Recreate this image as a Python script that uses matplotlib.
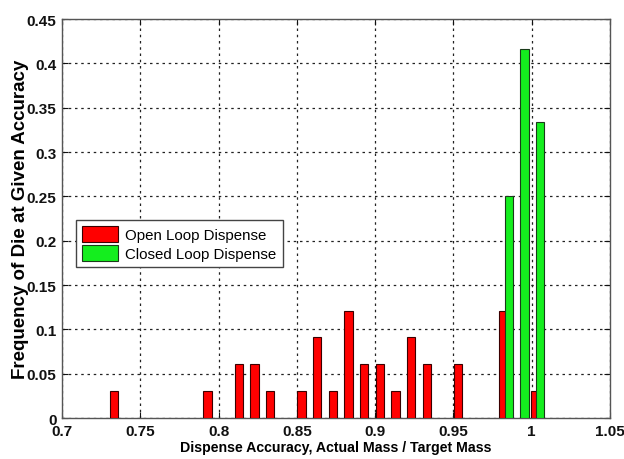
import matplotlib
matplotlib.use("Agg")
import matplotlib.pyplot as plt

# Data
open_centers = [0.733, 0.793, 0.813, 0.823, 0.833, 0.853, 0.863, 0.873, 0.883,
                0.893, 0.903, 0.913, 0.923, 0.933, 0.953, 0.9818, 1.0022]
open_freq = [0.0303, 0.0303, 0.0606, 0.0606, 0.0303, 0.0303, 0.0909, 0.0303, 0.1212,
             0.0606, 0.0606, 0.0303, 0.0909, 0.0606, 0.0606, 0.1212, 0.0303]
closed_centers = [0.9855, 0.9954, 1.0052]
closed_freq = [0.25, 0.4167, 0.3333]

xticks = [0.7, 0.75, 0.8, 0.85, 0.9, 0.95, 1.0, 1.05]
xtick_labels = ["0.7", "0.75", "0.8", "0.85", "0.9", "0.95", "1", "1.05"]
yticks = [0, 0.05, 0.1, 0.15, 0.2, 0.25, 0.3, 0.35, 0.4, 0.45]
ytick_labels = ["0", "0.05", "0.1", "0.15", "0.2", "0.25", "0.3", "0.35", "0.4", "0.45"]

plt.rcParams['font.family'] = ['Liberation Sans', 'DejaVu Sans']

fig = plt.figure(figsize=(6.24, 4.6), dpi=100)
ax = fig.add_axes([0.0994, 0.0891, 0.8782, 0.8674])

bw = 0.0053
ax.bar(open_centers, open_freq, width=bw, color='#ff0000', edgecolor='#3a0000',
       linewidth=0.8, label='Open Loop Dispense', zorder=3)
ax.bar(closed_centers, closed_freq, width=bw, color='#14ee1e', edgecolor='#1a3a1a',
       linewidth=0.8, label='Closed Loop Dispense', zorder=3)

ax.set_xlim(0.7, 1.05)
ax.set_ylim(0, 0.45)
ax.set_xticks(xticks)
ax.set_xticklabels(xtick_labels)
ax.set_yticks(yticks)
ax.set_yticklabels(ytick_labels)

ax.grid(True, linestyle=(0, (2, 3)), color='#222222', linewidth=0.9, zorder=0)
ax.set_axisbelow(True)
ax.tick_params(direction='in', top=True, right=True, length=4, width=0.8,
               labelsize=11, colors='#111111')
ax.tick_params(axis='x', pad=4)
ax.tick_params(axis='y', pad=4)
for lbl in ax.get_xticklabels() + ax.get_yticklabels():
    lbl.set_fontweight('bold')
for s in ax.spines.values():
    s.set_color('#555555')
    s.set_linewidth(1.0)

ax.set_xlabel('Dispense Accuracy, Actual Mass / Target Mass', fontsize=10.2,
              fontweight='bold', labelpad=1.5)
ax.set_ylabel('Frequency of Die at Given Accuracy', fontsize=13.5,
              fontweight='bold', labelpad=-1.5)

leg = ax.legend(loc='lower left', bbox_to_anchor=(0.0255, 0.378), fancybox=False,
                framealpha=1, edgecolor='#444444', fontsize=10.8,
                handlelength=2.4, handleheight=1.2, borderpad=0.42,
                labelspacing=0.2, handletextpad=0.45, borderaxespad=0)
leg.get_frame().set_linewidth(1.0)

fig.savefig('out.png', dpi=100)
